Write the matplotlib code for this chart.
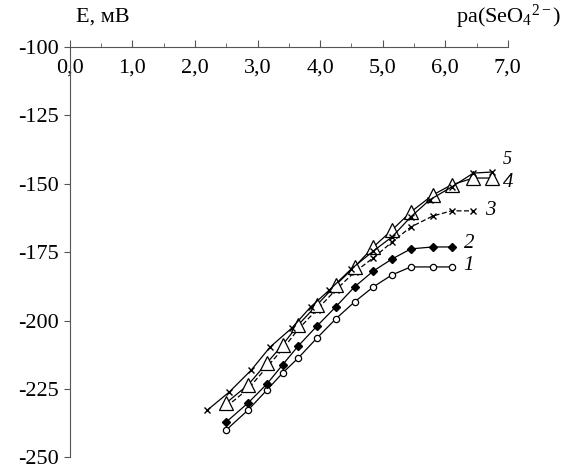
import matplotlib.pyplot as plt
from matplotlib.ticker import MultipleLocator, FuncFormatter

plt.rcParams['font.family'] = ['Liberation Serif', 'DejaVu Serif']
plt.rcParams['mathtext.fontset'] = 'custom'
plt.rcParams['mathtext.rm'] = 'Liberation Serif'
plt.rcParams['mathtext.it'] = 'Liberation Serif:italic'

# curve 1 - open circles
pa1 = [2.5, 2.85, 3.15, 3.4, 3.65, 3.95, 4.25, 4.55, 4.85, 5.15, 5.45, 5.8, 6.1]
E1 = [-240.0, -232.7, -225.4, -219.2, -213.7, -206.4, -199.4, -193.2, -187.7, -183.3, -180.4, -180.4, -180.4]

# curve 2 - filled diamonds
pa2 = [2.5, 2.85, 3.15, 3.4, 3.65, 3.95, 4.25, 4.55, 4.85, 5.15, 5.45, 5.8, 6.1]
E2 = [-237.1, -230.1, -223.2, -216.2, -209.3, -202.0, -195.0, -187.7, -181.9, -177.5, -173.8, -173.1, -173.1]

# curve 3 - crosses, dashed
pa3 = [2.5, 2.85, 3.15, 3.4, 3.65, 3.95, 4.25, 4.55, 4.85, 5.15, 5.45, 5.8, 6.1, 6.45]
E3 = [-231.5, -225.0, -217.0, -210.5, -203.2, -196.0, -188.8, -182.3, -177.1, -171.3, -165.8, -161.8, -159.9, -159.9]

# curve 4 - open triangles
pa4 = [2.5, 2.85, 3.15, 3.4, 3.65, 3.95, 4.25, 4.55, 4.85, 5.15, 5.45, 5.8, 6.1, 6.45, 6.75]
E4 = [-230.1, -223.5, -215.5, -208.9, -201.6, -194.3, -187.0, -180.4, -173.1, -166.9, -160.3, -154.1, -150.4, -147.9, -147.9]

# curve 5 - crosses, solid
pa5 = [2.2, 2.55, 2.9, 3.2, 3.55, 3.85, 4.15, 4.5, 4.85, 5.15, 5.45, 5.75, 6.1, 6.45, 6.75]
E5 = [-232.7, -226.1, -218.1, -209.7, -202.7, -195.0, -188.8, -181.1, -174.6, -169.4, -162.1, -155.9, -151.2, -146.1, -145.7]

fig = plt.figure(figsize=(5.63, 4.70), dpi=100)
ax = fig.add_axes([0.124, 0.027, 0.778, 0.873])

lw = 0.9
ax.plot(pa1, E1, color='black', lw=lw, marker='o', ms=4.5, mfc='white', mec='black', mew=0.9)
ax.plot(pa2, E2, color='black', lw=lw, marker='D', ms=4.5, mfc='black', mec='black')
ax.plot(pa3, E3, color='black', lw=lw, ls=(0, (4, 2)), marker='x', ms=5, mew=1.0)
ax.plot(pa4, E4, color='black', lw=lw, marker='^', ms=9.5, mfc='white', mec='black', mew=0.9)
ax.plot(pa5, E5, color='black', lw=lw, marker='x', ms=5, mew=1.0)

# curve numbers
labels = ['1', '2', '3', '4', '5']
sizes = [15, 15, 15, 15, 13]
ends = [(pa1[-1], E1[-1]), (pa2[-1], E2[-1]), (pa3[-1], E3[-1]), (pa4[-1], E4[-1]), (pa5[-1], E5[-1])]
offsets = [(0.18, 0.6), (0.2, 1.2), (0.18, 0.3), (0.18, -1.8), (0.17, 4.6)]
for lab, fs, (xe, ye), (dx, dy) in zip(labels, sizes, ends, offsets):
    ax.text(xe + dx, ye + dy, lab, fontsize=fs, style='italic', va='center', ha='left')

ax.set_xlim(0, 7)
ax.set_ylim(-250, -100)

ax.spines['top'].set_visible(False)
ax.spines['right'].set_visible(False)
ax.spines['bottom'].set_position(('data', -100))
ax.spines['bottom'].set_color('#555555')
ax.spines['left'].set_color('#555555')

ax.xaxis.set_major_locator(MultipleLocator(1))
ax.xaxis.set_minor_locator(MultipleLocator(0.5))
ax.yaxis.set_major_locator(MultipleLocator(25))
ax.xaxis.set_major_formatter(FuncFormatter(lambda v, p: f'{v:.1f}'.replace('.', ',')))
ax.yaxis.set_major_formatter(FuncFormatter(lambda v, p: f'{v:.0f}'))

ax.tick_params(axis='x', which='major', direction='in', length=5, pad=8, labelsize=16, color='#555555')
ax.tick_params(axis='x', which='minor', direction='in', length=3, color='#555555')
ax.tick_params(axis='y', which='major', direction='out', length=4, pad=4, labelsize=16, color='#555555')

fig.text(0.135, 0.963, 'E, мВ', fontsize=16, ha='left', va='center')
fig.text(0.997, 0.963, 'pa(SeO$_4$$^{2-}$)', fontsize=16, ha='right', va='center')

fig.savefig('out.png', dpi=100)
